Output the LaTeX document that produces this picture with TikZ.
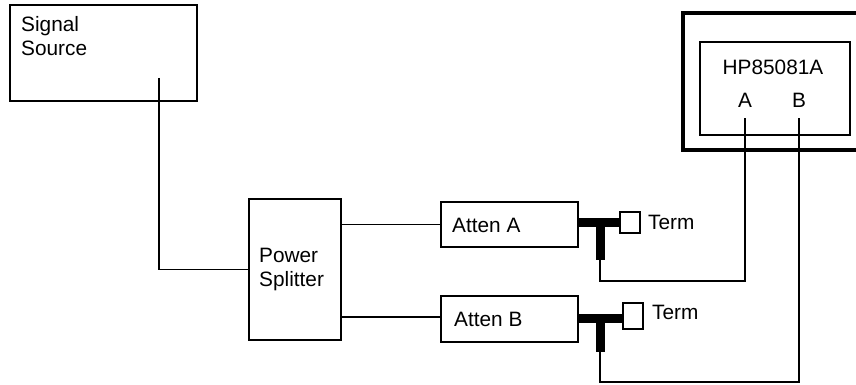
\documentclass[tikz,border=0pt]{standalone}
\usepackage{fontspec}
\setmainfont{Liberation Sans}
\begin{document}
\begin{tikzpicture}[x=1pt,y=-1pt,
  box/.style={draw, line width=1.8pt, inner sep=0pt},
  lbl/.style={font=\fontsize{20.8}{24}\selectfont, inner sep=0pt, align=left},
  wire/.style={line width=1.6pt},
  tee/.style={line width=9pt, line cap=butt},
  termbox/.style={draw, line width=1.5pt, inner sep=0pt, fill=white}]
\useasboundingbox (0,0) rectangle (856,385);

% Signal source
\node[box, minimum width=187pt, minimum height=96pt] (src) at (103.5,53) {};
\node[lbl, anchor=north west] (srcl) at (21,16) {Signal\\Source};

% Power splitter
\node[box, minimum width=92pt, minimum height=141pt] (split) at (295,269.5) {};
\node[lbl, anchor=west] (splitl) at (259,270) {Power\\Splitter};

% Attenuators
\node[box, minimum width=137pt, minimum height=45pt] (attA) at (509.5,224.5) {};
\node[lbl, anchor=west] (attAl) at (452,225) {Atten A};
\node[box, minimum width=137pt, minimum height=46pt] (attB) at (509.5,319) {};
\node[lbl, anchor=west] (attBl) at (454,319) {Atten B};

% HP85081A
\node[draw, line width=3.5pt, minimum width=200pt, minimum height=137pt] (hpout) at (783,81.5) {};
\node[box, minimum width=150pt, minimum height=93pt] (hp) at (775,88.5) {};
\node[lbl] (hpl) at (773,67) {HP85081A};
\node[lbl] (hpA) at (745,100) {A};
\node[lbl] (hpB) at (799,100) {B};

% Terminations
\node[termbox, minimum width=20pt, minimum height=21pt] (termA) at (630,222.5) {};
\node[lbl, anchor=west] (termAl) at (648,222) {Term};
\node[termbox, minimum width=20pt, minimum height=26pt] (termB) at (633,316) {};
\node[lbl, anchor=west] (termBl) at (652,312) {Term};

% Source to splitter
\coordinate (srcout) at (159,78);
\draw[wire] (srcout) |- (split.west);

% Splitter to attenuators
\draw[wire] (split.east |- attA.west) -- (attA.west);
\draw[wire] (split.east |- 0,317) -- (attB.west |- 0,317);

% Tee A
\coordinate (teeA) at (600,222);
\coordinate (teeAend) at (600,260);
\draw[tee] (attA.east |- teeA) -- (termA.west |- teeA);
\draw[tee] (teeA) -- (teeAend);
\coordinate (loopA) at (745,281);
\coordinate (portA) at (745,118);
\draw[wire] (teeAend) |- (loopA) -- (portA);

% Tee B
\coordinate (teeB) at (600,318);
\coordinate (teeBend) at (600,352);
\draw[tee] (attB.east |- teeB) -- (termB.west |- teeB);
\draw[tee] (teeB) -- (teeBend);
\coordinate (loopB) at (799,382);
\coordinate (portB) at (799,118);
\draw[wire] (teeBend) |- (loopB) -- (portB);
\end{tikzpicture}
\end{document}
